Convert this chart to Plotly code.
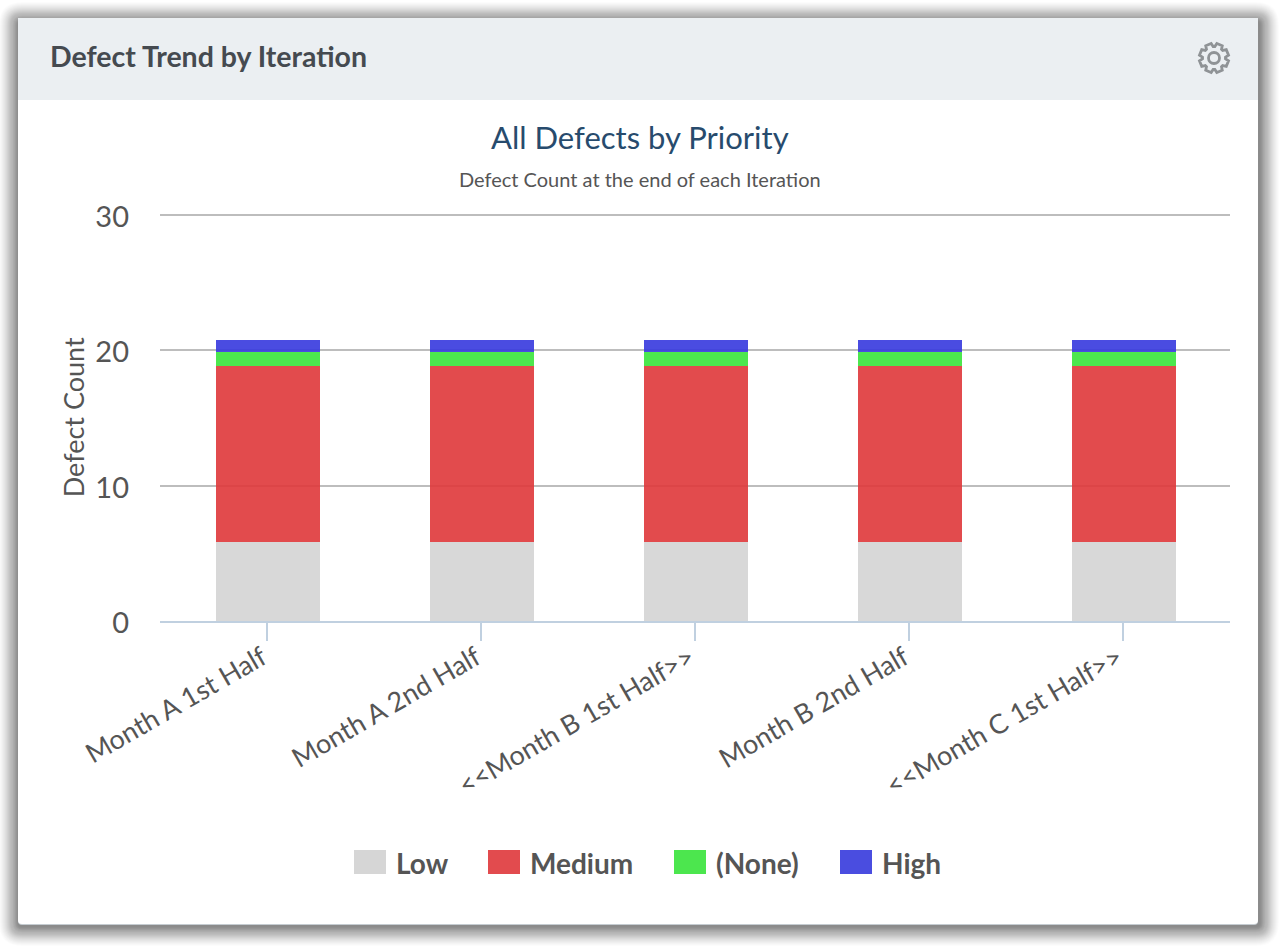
import numpy as np
import plotly.graph_objects as go

W, H = 1284, 952
categories = ["Month A 1st Half", "Month A 2nd Half", "<<Month B 1st Half>>", "Month B 2nd Half", "<<Month C 1st Half>>"]
low = [5.85, 5.85, 5.85, 5.85, 5.85]
medium = [13.0, 13.0, 13.0, 13.0, 13.0]
none_p = [1.03, 1.03, 1.03, 1.03, 1.03]
high = [0.89, 0.89, 0.89, 0.89, 0.89]
series_names = ["Low", "Medium", "(None)", "High"]
series_values = [low, medium, none_p, high]
series_colors = ["rgba(214,214,214,0.95)", "rgba(223,55,58,0.9)", "rgba(57,228,59,0.9)", "rgba(54,57,222,0.9)"]
legend_solid = ["#d6d6d6", "#e24b4e", "#4ce64e", "#4a4de0"]
y_ticks = [0, 10, 20, 30]
FONT = "Lato"
TXT = "#555555"

def X(x): return x / W
def Y(y): return 1 - y / H

fig = go.Figure()
bar_w = 0.486
for name, vals, col in zip(series_names, series_values, series_colors):
    fig.add_trace(go.Bar(name=name, x=categories, y=vals, marker=dict(color=col, line=dict(width=0)),
                         width=bar_w, offset=-bar_w / 2 + 1 / 214))

shapes = []
def round_rect(x0, y0, x1, y1, r):
    return (f"M{X(x0+r)},{Y(y0)} L{X(x1-r)},{Y(y0)} Q{X(x1)},{Y(y0)} {X(x1)},{Y(y0+r)} "
            f"L{X(x1)},{Y(y1-r)} Q{X(x1)},{Y(y1)} {X(x1-r)},{Y(y1)} L{X(x0+r)},{Y(y1)} "
            f"Q{X(x0)},{Y(y1)} {X(x0)},{Y(y1-r)} L{X(x0)},{Y(y0+r)} Q{X(x0)},{Y(y0)} {X(x0+r)},{Y(y0)} Z")

# card shadow
for r in range(1, 21):
    shapes.append(dict(type="path", xref="paper", yref="paper", layer="below",
                       path=round_rect(18 - r + 1, 18 - r + 4, 1258 + r + 1, 924 + r + 2, r + 3),
                       fillcolor=f"rgba(0,0,0,{0.012 + 0.0015 * (21 - r):.4f})", line=dict(width=0)))
# card and header
shapes.append(dict(type="path", xref="paper", yref="paper", layer="below",
                   path=round_rect(18, 18, 1258, 925, 4), fillcolor="#c5ccd1", line=dict(width=0)))
shapes.append(dict(type="path", xref="paper", yref="paper", layer="below",
                   path=round_rect(18, 18, 1258, 924, 4), fillcolor="#ffffff", line=dict(width=0)))
shapes.append(dict(type="rect", xref="paper", yref="paper", layer="below",
                   x0=X(18), x1=X(1258), y0=Y(18), y1=Y(100), fillcolor="#ebeff2", line=dict(width=0)))

# settings gear
cx, cy = 1214, 58
ang = np.linspace(0, 2 * np.pi, 8, endpoint=False) + np.pi / 8
pts = []
for a in ang:
    for da, rr in [(-0.32, 11.5), (-0.2, 14.8), (0.2, 14.8), (0.32, 11.5)]:
        pts.append((cx + rr * np.cos(a + da), cy + rr * np.sin(a + da)))
gear = "M" + " L".join(f"{X(px)},{Y(py)}" for px, py in pts) + " Z"
shapes.append(dict(type="path", xref="paper", yref="paper", path=gear, fillcolor="rgba(0,0,0,0)",
                   line=dict(color="#8f9396", width=2.8)))
shapes.append(dict(type="circle", xref="paper", yref="paper", x0=X(cx - 5.5), x1=X(cx + 5.5),
                   y0=Y(cy - 5.5), y1=Y(cy + 5.5), fillcolor="rgba(0,0,0,0)",
                   line=dict(color="#8f9396", width=2.8)))

annotations = [
    dict(text="<b>Defect Trend by Iteration</b>", x=X(48), y=Y(56), xanchor="left", yanchor="middle",
         font=dict(family=FONT, size=28.5, color="#454a50")),
    dict(text="All Defects by Priority", x=X(640), y=Y(137), xanchor="center", yanchor="middle",
         font=dict(family=FONT, size=31, color="#274b6d")),
    dict(text="Defect Count at the end of each Iteration", x=X(640), y=Y(179), xanchor="center", yanchor="middle",
         font=dict(family=FONT, size=20, color="#555555")),
]
# legend
leg_x = [354, 488, 674, 840]
for name, col, lx in zip(series_names, legend_solid, leg_x):
    shapes.append(dict(type="rect", xref="paper", yref="paper", x0=X(lx), x1=X(lx + 32),
                       y0=Y(850), y1=Y(874), fillcolor=col, line=dict(width=0)))
    annotations.append(dict(text=f"<b>{name}</b>", x=X(lx + 40), y=Y(862.5), xanchor="left", yanchor="middle",
                            font=dict(family=FONT, size=28, color=TXT)))
for a in annotations:
    a.update(xref="paper", yref="paper", showarrow=False)

fig.update_layout(
    width=W, height=H, autosize=False,
    margin=dict(l=0, r=0, t=0, b=0),
    paper_bgcolor="#ffffff", plot_bgcolor="rgba(0,0,0,0)",
    barmode="stack", showlegend=False, shapes=shapes, annotations=annotations,
    font=dict(family=FONT, color=TXT),
    xaxis=dict(domain=[X(160), X(1230)], anchor="y", type="category", tickangle=-30, ticks="outside", ticklen=18,
               tickwidth=1.5, tickcolor="#c0d0e0", showline=True, linecolor="#c0d0e0", linewidth=1.5,
               showgrid=False, tickfont=dict(family=FONT, size=27, color=TXT), automargin=False,
               ticklabelstandoff=-9, ticklabelshift=-5),
    yaxis=dict(domain=[Y(621), Y(621 - 30.1 * 406 / 30)], anchor="x", range=[0, 30.1], tickmode="array", tickvals=y_ticks,
               showgrid=True, gridcolor="#bdbdbd", gridwidth=1.5, zeroline=False, showline=False,
               ticks="", ticklabelstandoff=30, ticklabelshift=2, tickfont=dict(family=FONT, size=29, color=TXT), automargin=False,
               title=dict(text="Defect Count", font=dict(family=FONT, size=27, color=TXT), standoff=2)),
)
fig.write_html("out.html", config=dict(displayModeBar=False),
               post_script="document.body.style.margin='0';document.body.style.overflow='hidden';")
